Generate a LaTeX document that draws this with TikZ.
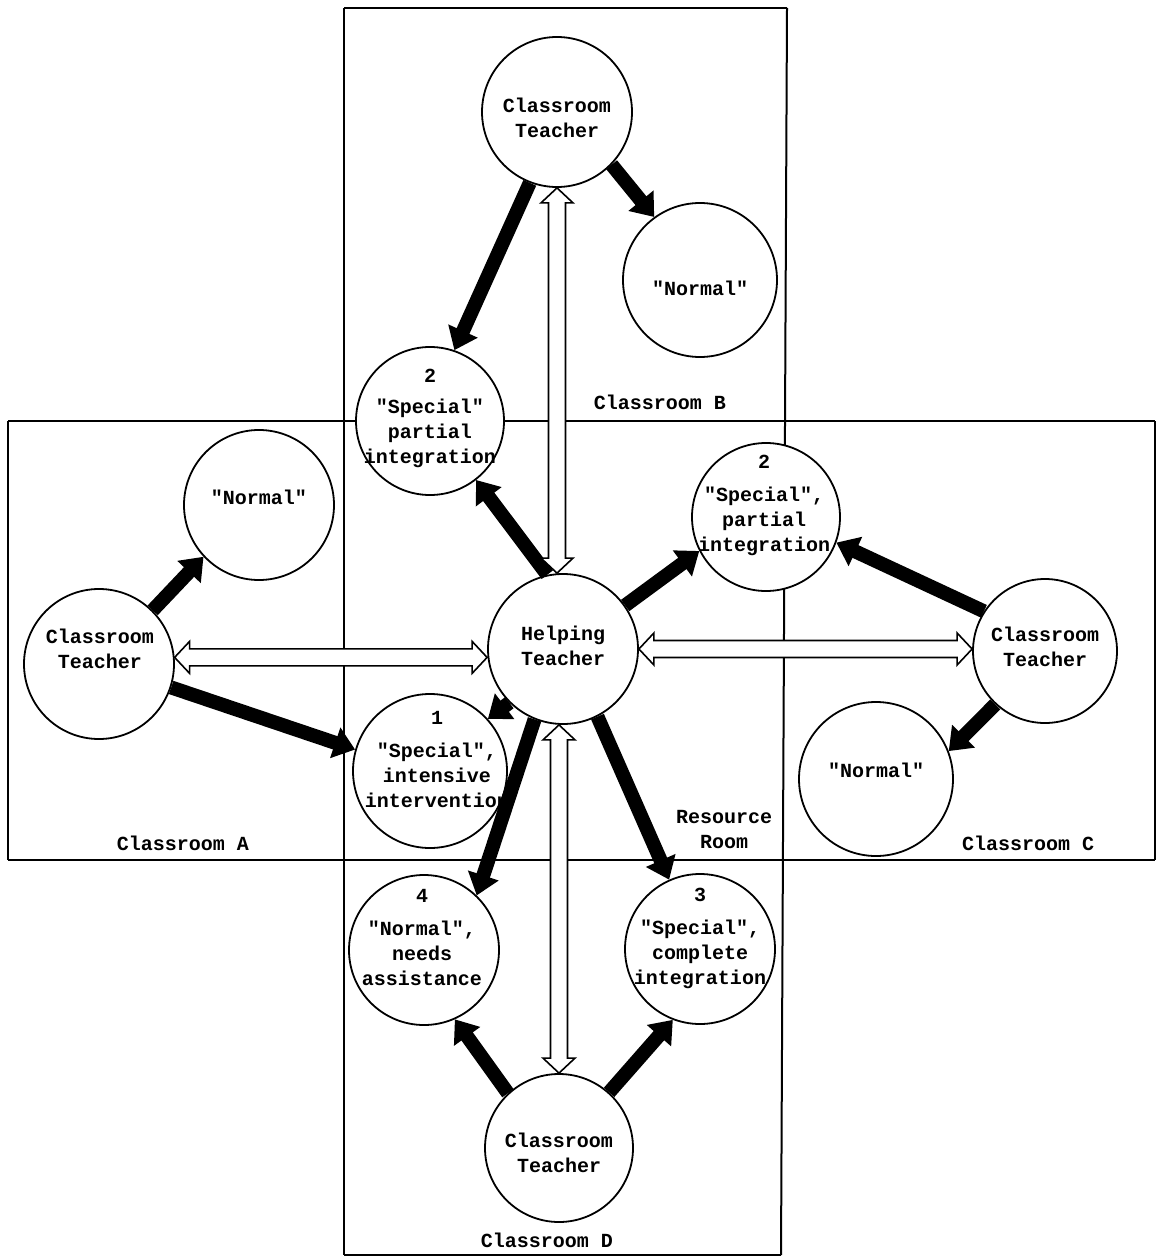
\documentclass[tikz,border=0pt]{standalone}
\usepackage{fontspec}
\setmonofont{Liberation Mono}
\usetikzlibrary{arrows.meta,calc}
\newcommand\hollowarrow[2]{%
  \coordinate (hA) at ($(#1)!15pt!(#2)$);
  \coordinate (hB) at ($(#2)!15pt!(#1)$);
  \path[hollow] (#1) -- ($(hA)!16pt!90:(#2)$) -- ($(hA)!8.5pt!90:(#2)$)
     -- ($(hB)!8.5pt!-90:(#1)$) -- ($(hB)!16pt!-90:(#1)$) -- (#2)
     -- ($(hB)!16pt!90:(#1)$) -- ($(hB)!8.5pt!90:(#1)$)
     -- ($(hA)!8.5pt!-90:(#2)$) -- ($(hA)!16pt!-90:(#2)$) -- cycle;}
\begin{document}
\begin{tikzpicture}[x=1pt,y=-1pt,
  circ/.style={circle,draw=black,line width=1.8pt,fill=white,minimum size=#1,inner sep=0pt},
  circ/.default=150pt,
  txt/.style={align=center,inner sep=0pt,font=\ttfamily\bfseries\fontsize{20}{25}\selectfont},
  boxline/.style={line width=2pt},
  thickarrow/.style={line width=14pt,-{Triangle[width=31pt,length=21pt]}},
  hollow/.style={draw=black,line width=1.6pt,fill=white,line join=miter}]
\fill[white] (0,0) rectangle (1157,1257);
\useasboundingbox (0,0) rectangle (1157,1257);
% room outlines
\draw[boxline] (344,8) -- (787,8);
\draw[boxline] (344,8) -- (344,1255);
\draw[boxline] (787,8) -- (781,1255);
\draw[boxline] (8,421) -- (1155,421);
\draw[boxline] (8,860) -- (1155,860);
\draw[boxline] (8,421) -- (8,860);
\draw[boxline] (1155,421) -- (1155,860);
\draw[boxline] (344,1255) -- (781,1255);
% circles
\node[circ=150pt] (tb) at (557,112) {};
\node[circ=154pt] (nb) at (700,280) {};
\node[circ=148pt] (b2) at (430,421) {};
\node[circ=150pt] (na) at (259,505) {};
\node[circ=150pt] (ta) at (99,664) {};
\node[circ=150pt] (ht) at (563,649) {};
\node[circ=148pt] (c2) at (766,517) {};
\node[circ=144pt] (tc) at (1045,651) {};
\node[circ=154pt] (nc) at (876,779) {};
\node[circ=154pt] (i1) at (430,771) {};
\node[circ=150pt] (n4) at (424,950) {};
\node[circ=150pt] (s3) at (700,949) {};
\node[circ=148pt] (td) at (559,1148) {};
% texts
\node[txt] (tbt) at (557,118) {Classroom\\Teacher};
\node[txt] (nbt) at (700,288) {"Normal"};
\node[txt] (b2t) at (430,418) {2\\[6pt]"Special"\\partial\\integration};
\node[txt] (nat) at (259,497) {"Normal"};
\node[txt] (tat) at (100,649) {Classroom\\Teacher};
\node[txt] (htt) at (563,646) {Helping\\Teacher};
\node[txt] (c2t) at (764,505) {2\\[8pt]"Special",\\partial\\integration};
\node[txt] (tct) at (1045,647) {Classroom\\Teacher};
\node[txt] (nct) at (876,770) {"Normal"};
\node[txt] (i1t) at (437,760) {1\\[8pt]"Special",\\intensive\\intervention};
\node[txt] (n4t) at (422,937) {4\\[8pt]"Normal",\\needs\\assistance};
\node[txt] (s3t) at (700,938) {3\\[8pt]"Special",\\complete\\integration};
\node[txt] (tdt) at (559,1153) {Classroom\\Teacher};
% room labels
\node[txt] (lb) at (660,402) {Classroom B};
\node[txt] (la) at (183,843) {Classroom A};
\node[txt] (lc) at (1028,843) {Classroom C};
\node[txt] (ld) at (547,1240) {Classroom D};
\node[txt] (lr) at (724,830) {Resource\\Room};
% black arrows
\draw[thickarrow] (tb.249) -- (b2.71);
\draw[thickarrow] (tb.-44) -- (nb.126);
\draw[thickarrow] (ht.102) -- (b2.-52);
\draw[thickarrow] (ht.35) -- (c2.207);
\draw[thickarrow] (tc.147) -- (c2.-20);
\draw[thickarrow] (tc.227) -- (nc.21);
\draw[thickarrow] (ta.45) -- (na.223);
\draw[thickarrow] (ta.-18) -- (i1.164);
\draw[thickarrow] (ht.225) -- (i1.42);
\draw[thickarrow] (ht.248) -- (n4.46);
\draw[thickarrow] (ht.-63) -- (s3.114);
\draw[thickarrow] (td.133) -- (n4.-66);
\draw[thickarrow] (td.48) -- (s3.249);
% hollow double arrows
\coordinate (u1) at (tb.south);
\coordinate (u2) at (tb.south |- ht.north);
\hollowarrow{u1}{u2}
\coordinate (d1) at (td.north);
\coordinate (d2) at (td.north |- ht.south);
\hollowarrow{d1}{d2}
\coordinate (l1) at (ta.5);
\coordinate (l2) at (ta.5 -| ht.west);
\hollowarrow{l1}{l2}
\coordinate (r1) at (ht.east);
\coordinate (r2) at (ht.east -| tc.west);
\hollowarrow{r1}{r2}
\end{tikzpicture}
\end{document}
